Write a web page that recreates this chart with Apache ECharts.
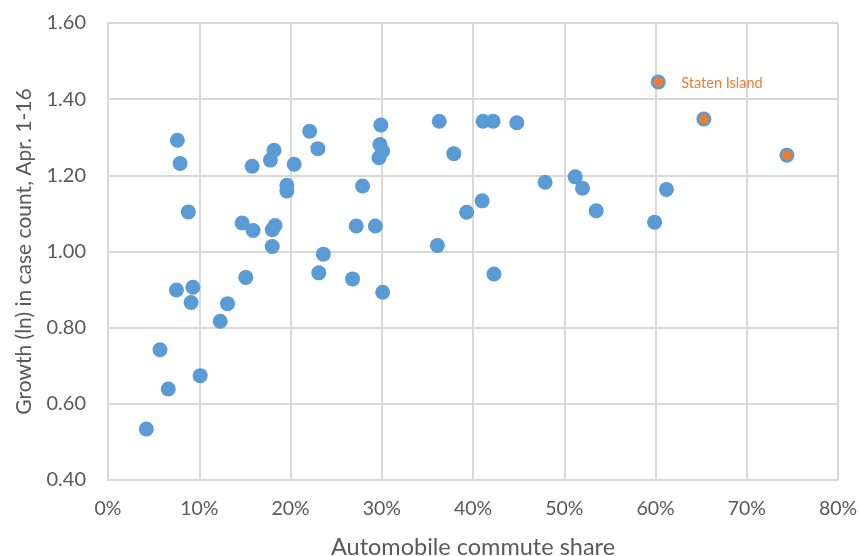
<!DOCTYPE html>
<html><head><meta charset="utf-8">
<script src="https://cdn.jsdelivr.net/npm/echarts@6/dist/echarts.min.js"></script>
<style>html,body{margin:0;padding:0;background:#fff}#c{width:859px;height:556px}</style>
</head><body><div id="c"></div>
<script>
const autoShare = [0.042,0.057,0.066,0.075,0.076,0.079,0.088,0.091,0.093,0.101,0.123,0.131,0.147,0.151,0.158,0.159,0.178,0.180,0.180,0.182,0.183,0.196,0.196,0.204,0.221,0.230,0.231,0.236,0.268,0.272,0.279,0.293,0.297,0.298,0.299,0.301,0.301,0.361,0.363,0.379,0.393,0.410,0.411,0.422,0.423,0.448,0.479,0.512,0.520,0.535,0.599,0.612,0.603,0.653,0.744];
const growth = [0.534,0.742,0.639,0.899,1.292,1.231,1.104,0.866,0.906,0.674,0.817,0.863,1.075,0.932,1.224,1.055,1.240,1.013,1.057,1.266,1.068,1.174,1.159,1.229,1.316,1.270,0.944,0.993,0.928,1.067,1.172,1.067,1.246,1.281,1.332,1.264,0.893,1.016,1.342,1.257,1.103,1.133,1.342,1.342,0.941,1.338,1.182,1.196,1.166,1.107,1.077,1.163,1.445,1.348,1.253];
const statenShare = [0.603,0.653,0.744];
const statenGrowth = [1.445,1.348,1.253];
const statenLabels = ["Staten Island","",""];
const xTitle = "Automobile commute share";
const yTitle = "Growth (ln) in case count, Apr. 1-16";

const allPts = autoShare.map((x,i)=>[x,growth[i]]);
const sPts = statenShare.map((x,i)=>({value:[x,statenGrowth[i]],name:statenLabels[i]}));
const font = "Lato, 'Open Sans', sans-serif";
const chart = echarts.init(document.getElementById('c'));
chart.setOption({
  animation:false,
  grid:{left:108,right:21,top:23,bottom:76,containLabel:false,outerBoundsMode:'none'},
  xAxis:{type:'value',min:0,max:0.8,interval:0.1,
    name:xTitle,nameLocation:'middle',nameGap:55,
    nameTextStyle:{color:'#595959',fontSize:23.5,fontFamily:font},
    axisLine:{show:true,lineStyle:{color:'#d9d9d9',width:2}},
    axisTick:{show:false},
    splitLine:{show:true,lineStyle:{color:'#d9d9d9',width:2}},
    axisLabel:{color:'#595959',fontSize:19.5,fontFamily:font,margin:19,
      formatter:v=>Math.round(v*100)+'%'}},
  yAxis:{type:'value',min:0.4,max:1.6,interval:0.2,
    name:yTitle,nameLocation:'middle',nameGap:73,
    nameTextStyle:{color:'#595959',fontSize:21,fontFamily:font},
    axisLine:{show:true,lineStyle:{color:'#d9d9d9',width:2}},
    axisTick:{show:false},
    splitLine:{show:true,lineStyle:{color:'#d9d9d9',width:2}},
    axisLabel:{color:'#595959',fontSize:20,fontFamily:font,margin:22,
      formatter:v=>v.toFixed(2)}},
  series:[
    {type:'scatter',data:allPts,symbolSize:15,itemStyle:{color:'#5b9bd5',opacity:1}},
    {type:'scatter',data:sPts,symbolSize:10,itemStyle:{color:'#ed7d31',opacity:1},
      label:{show:true,position:'right',distance:18,offset:[0,1],formatter:p=>p.name,
        color:'#ed7d31',fontSize:14.5,fontFamily:font}}
  ]
});
</script></body></html>
